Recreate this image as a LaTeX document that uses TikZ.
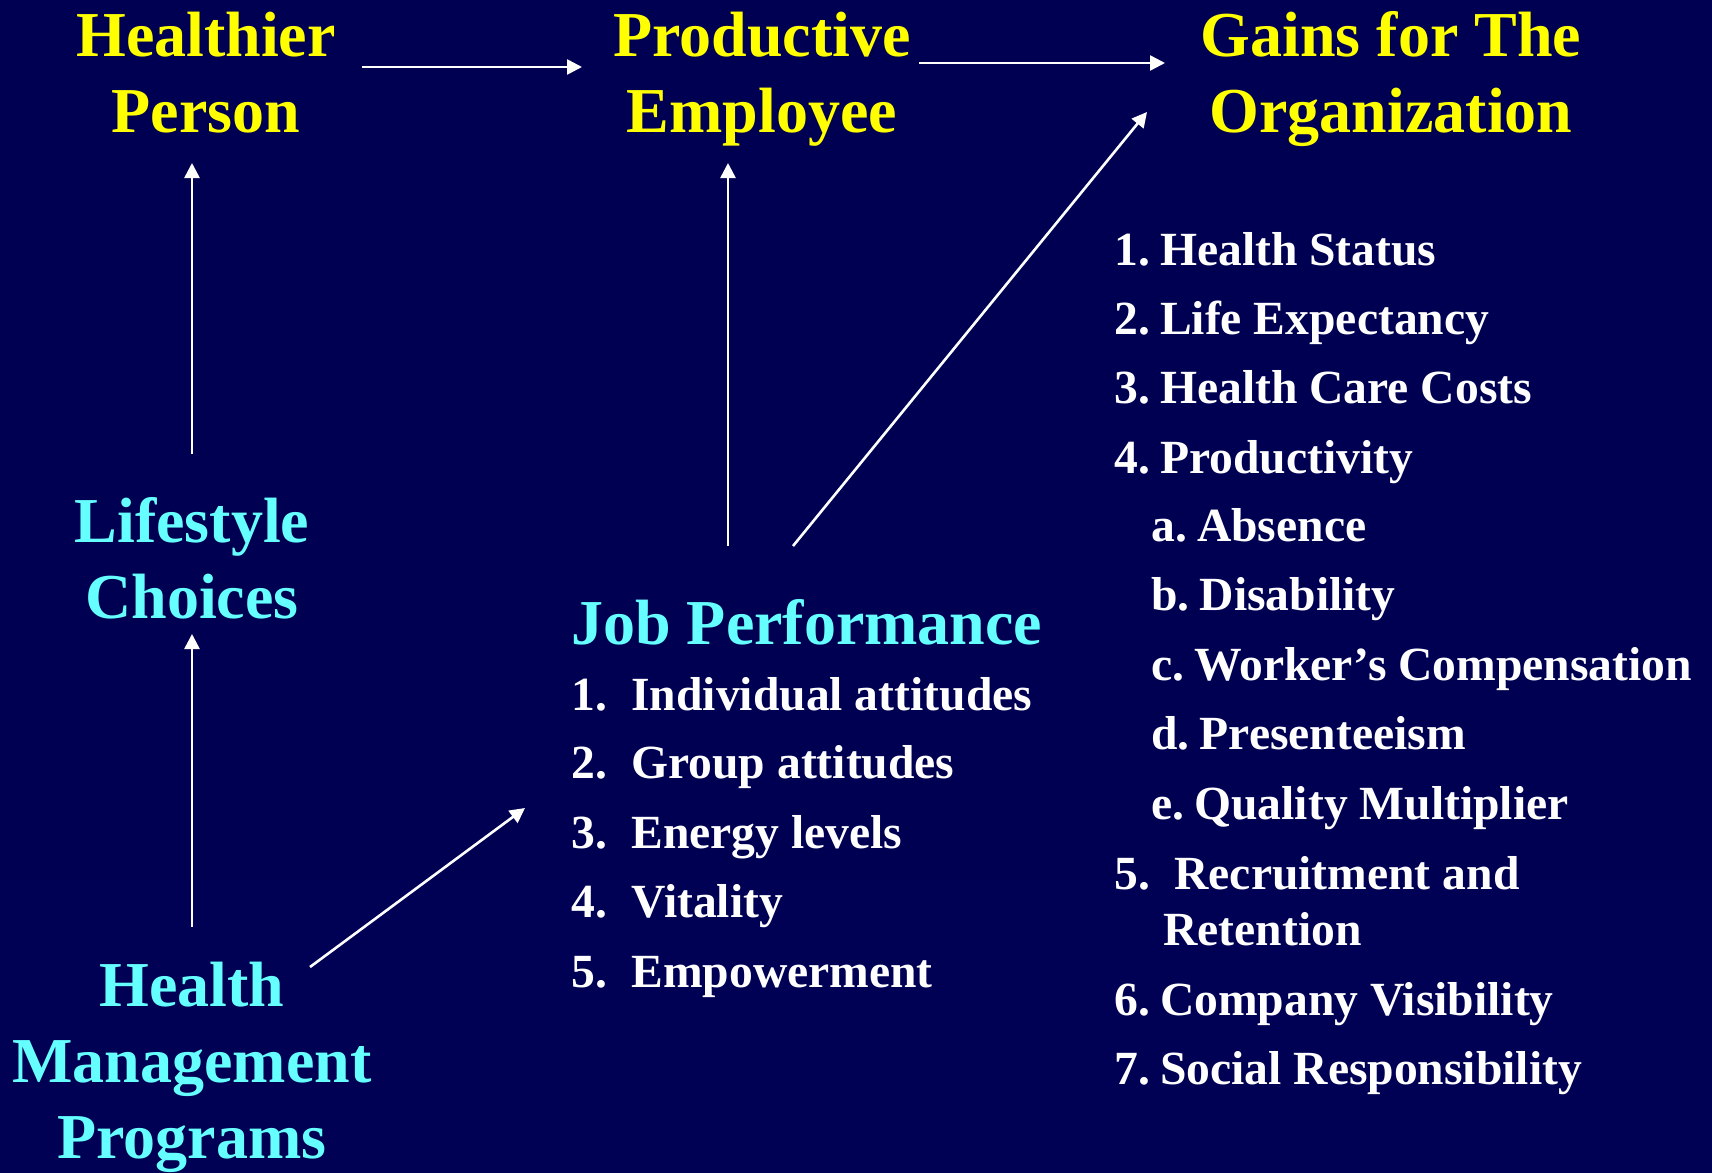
\documentclass[tikz,border=0pt]{standalone}
\usepackage{fontspec}
\setmainfont{Liberation Serif}
\usetikzlibrary{arrows.meta}
\definecolor{navytop}{RGB}{0,0,82}
\definecolor{navymid}{RGB}{0,0,44}
\definecolor{navybot}{RGB}{0,0,84}
\definecolor{headyellow}{RGB}{255,255,0}
\definecolor{headcyan}{RGB}{102,255,255}
\newcommand{\gap}{\hspace{0.21em}}
\tikzset{
  heading/.style={text=headyellow, align=center, anchor=base, inner sep=0pt,
    font=\bfseries\fontsize{32}{38}\selectfont},
  topic/.style={text=headcyan, align=center, anchor=base, inner sep=0pt,
    font=\bfseries\fontsize{32}{38}\selectfont},
  item/.style={text=white, anchor=base west, inner sep=0pt,
    font=\bfseries\fontsize{23.8}{29}\selectfont},
  link/.style={draw=white, line width=1.3pt,
    -{Triangle[length=7.5pt,width=7.5pt]}},
}
\begin{document}
\begin{tikzpicture}[x=0.5pt,y=-0.5pt]
  % backdrop
  \shade[top color=navytop, middle color=navymid, bottom color=navybot]
    (0,0) rectangle (1712,1172);
  \useasboundingbox (0,0) rectangle (1712,1172);

  % outcome chain along the top (anchored at the baseline of the last line)
  \node[heading] (healthier) at (206,133) {Healthier\\Person};
  \node[heading] (productive) at (762,133) {Productive\\Employee};
  \node[heading] (gains) at (1391,133) {Gains for The\\Organization};

  % drivers
  \node[topic] (lifestyle) at (192,618) {Lifestyle\\Choices};
  \node[topic] (programs) at (192,1158) {Health\\Management\\Programs};
  \node[topic, anchor=base west] (jobperf) at (571,644) {Job Performance};

  % job performance factors
  \foreach \n/\t/\y in {1/Individual attitudes/710, 2/Group attitudes/778,
                        3/Energy levels/848, 4/Vitality/917, 5/Empowerment/987}{
    \node[item] (jn\n) at (571,\y) {\n.};
    \node[item] (jt\n) at (631,\y) {\t};
  }

  % organizational gains
  \node[item] (g1) at (1114,265) {1.\gap Health Status};
  \node[item] (g2) at (1114,334) {2.\gap Life Expectancy};
  \node[item] (g3) at (1114,403) {3.\gap Health Care Costs};
  \node[item] (g4) at (1114,473) {4.\gap Productivity};
  \node[item] (g4a) at (1151,541) {a.\gap Absence};
  \node[item] (g4b) at (1151,610) {b.\gap Disability};
  \node[item] (g4c) at (1151,680) {c.\gap Worker’s Compensation};
  \node[item] (g4d) at (1151,749) {d.\gap Presenteeism};
  \node[item] (g4e) at (1151,819) {e.\gap Quality Multiplier};
  \node[item] (g5) at (1114,889) {5.};
  \node[item] (g5t) at (1174,889) {Recruitment and};
  \node[item] (g5r) at (1163,945) {Retention};
  \node[item] (g6) at (1114,1015) {6.\gap Company Visibility};
  \node[item] (g7) at (1114,1084) {7.\gap Social Responsibility};

  % arrow end points
  \coordinate (hp-out) at (362,67);
  \coordinate (pe-in)  at (582,67);
  \coordinate (pe-out) at (919,63);
  \coordinate (go-in)  at (1165,63);
  \coordinate (lc-up)  at (192,454);
  \coordinate (hp-low) at (192,163);
  \coordinate (hm-up)  at (192,927);
  \coordinate (lc-low) at (192,634);
  \coordinate (jp-up)  at (728,546);
  \coordinate (pe-low) at (728,163);
  \coordinate (jp-diag) at (793,546);
  \coordinate (go-diag) at (1147,112);
  \coordinate (hm-diag) at (310,967);
  \coordinate (jp-left) at (525,808);

  \draw[link] (hp-out) -- (pe-in);
  \draw[link] (pe-out) -- (go-in);
  \draw[link] (lc-up) -- (hp-low);
  \draw[link] (hm-up) -- (lc-low);
  \draw[link] (jp-up) -- (pe-low);
  \draw[link] (jp-diag) -- (go-diag);
  \draw[link] (hm-diag) -- (jp-left);
\end{tikzpicture}
\end{document}
